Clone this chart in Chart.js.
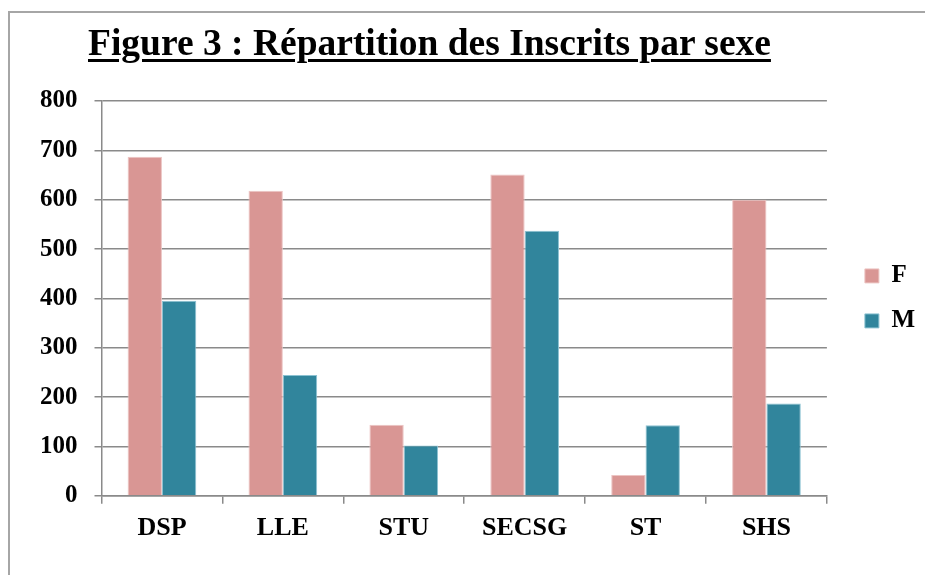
<!DOCTYPE html>
<html>
<head>
<meta charset="utf-8">
<script src="https://cdn.jsdelivr.net/npm/chart.js@4"></script>
<style>
  html, body { margin: 0; padding: 0; background: #fff; overflow: hidden; }
  #wrap { position: relative; width: 925px; height: 575px; }
  #frame {
    position: absolute; left: 8px; top: 11px; width: 940px; height: 600px;
    border: 2px solid #a6a6a6; box-sizing: border-box;
  }
  #title {
    position: absolute; left: 88px; top: 24px; margin: 0;
    font: bold 37.5px "Liberation Serif", "Times New Roman", serif;
    line-height: 1; color: #000; white-space: nowrap;
    text-decoration: underline; text-decoration-thickness: 3px; text-underline-offset: 4px;
  }
  #box { position: absolute; left: 0; top: 0; width: 925px; height: 575px; }
</style>
</head>
<body>
<div id="wrap">
  <div id="frame"></div>
  <div id="box"><canvas id="chart"></canvas></div>
  <h1 id="title">Figure 3 : Répartition des Inscrits par sexe</h1>
</div>
<script>
const categories = ['DSP', 'LLE', 'STU', 'SECSG', 'ST', 'SHS'];
const femmes = [687, 618, 144, 651, 42, 600];
const hommes = [395, 245, 102, 537, 143, 187];
const yTicks = [0, 100, 200, 300, 400, 500, 600, 700, 800];

const serif = '"Liberation Serif", "Times New Roman", serif';
const gridGray = '#8a8a8a';

new Chart(document.getElementById('chart'), {
    type: 'bar',
    data: {
        labels: categories,
        datasets: [{
            label: 'F',
            data: femmes,
            backgroundColor: '#d99694',
            borderColor: '#ecc4c3',
            borderWidth: 1,
            categoryPercentage: 0.568,
            barPercentage: 1
        }, {
            label: 'M',
            data: hommes,
            backgroundColor: '#31859c',
            borderColor: '#8cc2d2',
            borderWidth: 1,
            categoryPercentage: 0.568,
            barPercentage: 1
        }]
    },
    options: {
        responsive: true,
        maintainAspectRatio: false,
        animation: false,
        layout: {
            padding: { top: 101, left: 23, right: 0, bottom: 22 }
        },
        plugins: {
            legend: {
                position: 'right',
                fullSize: false,
                labels: {
                    boxWidth: 14,
                    boxHeight: 14,
                    padding: 20,
                    color: '#000',
                    font: { family: serif, size: 25, weight: 'bold' }
                }
            },
            tooltip: { enabled: false }
        },
        scales: {
            x: {
                grid: {
                    drawOnChartArea: false,
                    drawTicks: true,
                    tickLength: 8,
                    color: gridGray,
                    lineWidth: 1.5
                },
                border: { color: gridGray, width: 1.5 },
                ticks: {
                    color: '#000',
                    padding: 9,
                    font: { family: serif, size: 26, weight: 'bold' }
                }
            },
            y: {
                min: 0,
                max: 800,
                afterBuildTicks: scale => {
                    scale.ticks = yTicks.map(v => ({ value: v }));
                },
                grid: {
                    color: gridGray,
                    lineWidth: 1.5,
                    tickLength: 7
                },
                border: { color: gridGray, width: 1.5 },
                ticks: {
                    color: '#000',
                    padding: 17,
                    font: { family: serif, size: 25, weight: 'bold' }
                }
            },
            // empty spacer between plot and legend
            gap: {
                type: 'linear',
                position: 'right',
                display: true,
                grid: { display: false, drawTicks: false },
                border: { display: false },
                ticks: { display: false },
                afterFit: scale => { scale.width = 18; }
            }
        }
    }
});
</script>
</body>
</html>
